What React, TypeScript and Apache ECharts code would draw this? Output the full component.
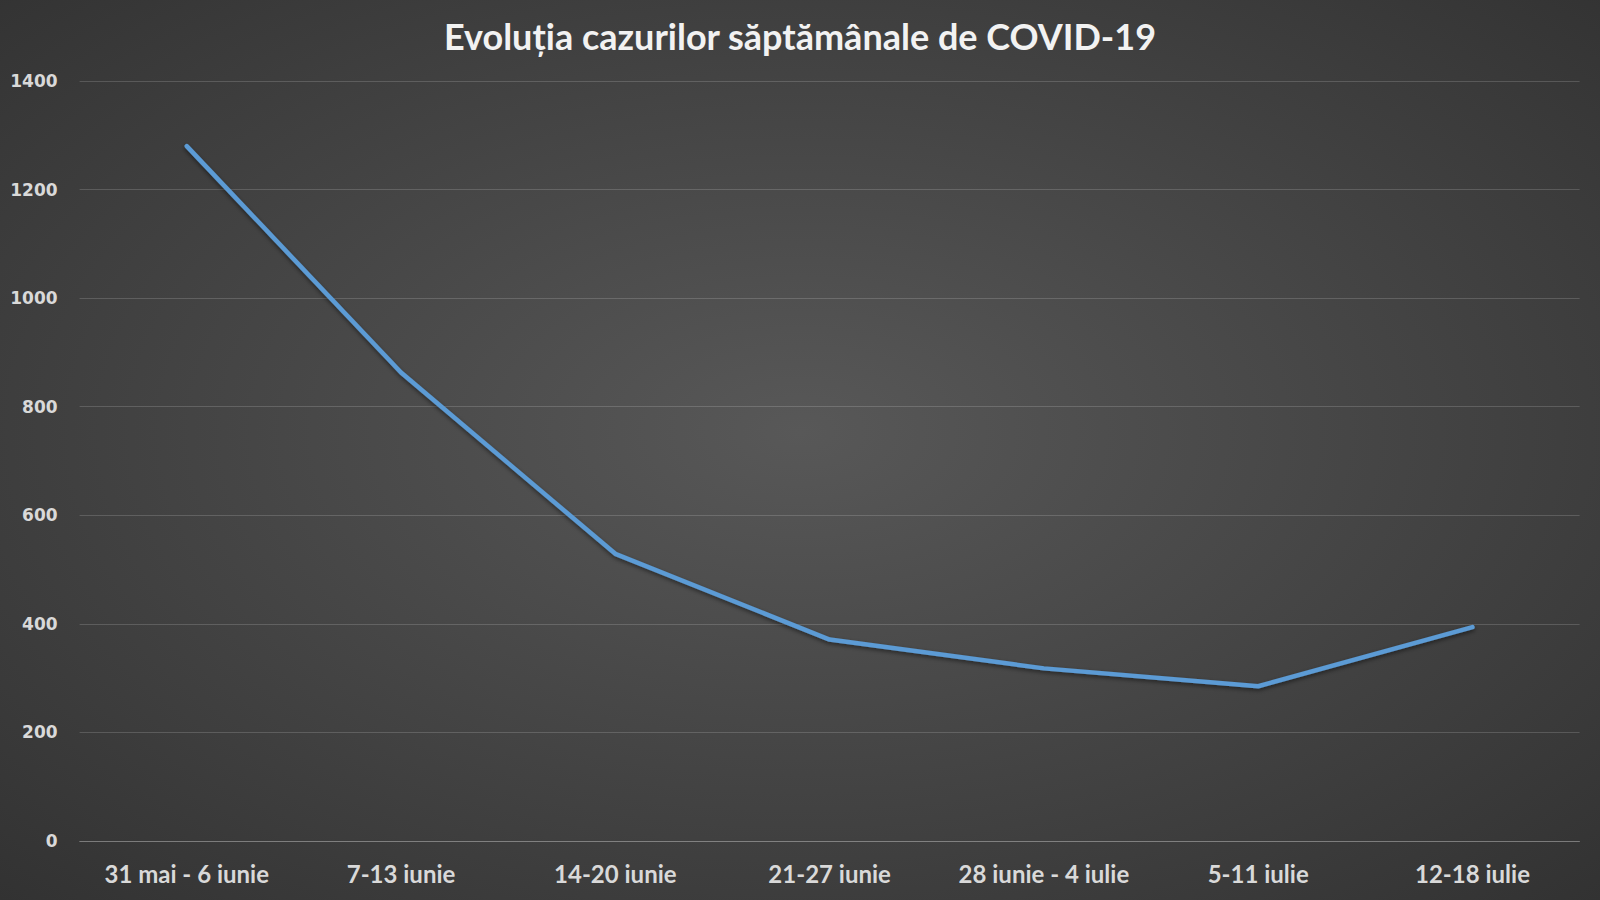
import React, { useEffect, useRef } from "react";
import * as echarts from "echarts";

const categories = [
  "31 mai - 6 iunie",
  "7-13 iunie",
  "14-20 iunie",
  "21-27 iunie",
  "28 iunie - 4 iulie",
  "5-11 iulie",
  "12-18 iulie",
];
const cases = [1280, 863, 529, 371, 318, 285, 394];
const titleText = "Evoluția cazurilor săptămânale de COVID-19";

export default function App() {
  const ref = useRef<HTMLDivElement>(null);
  useEffect(() => {
    if (!ref.current) return;
    const chart = echarts.init(ref.current, undefined, { renderer: "svg" });
    chart.setOption({
      animation: false,
      backgroundColor: new echarts.graphic.RadialGradient(0.5, 0.48, 0.95, [
        { offset: 0, color: "#585858" },
        { offset: 1, color: "#262626" },
      ]),
      title: {
        text: titleText,
        left: "center",
        top: 13,
        textStyle: {
          color: "#f2f2f2",
          fontFamily: "Lato",
          fontWeight: "bold",
          fontSize: 36,
        },
      },
      grid: { left: 79.6, right: 20.4, top: 81, bottom: 59, containLabel: false },
      xAxis: {
        type: "category",
        data: categories,
        boundaryGap: true,
        axisLine: { show: true, lineStyle: { color: "rgba(255,255,255,0.22)", width: 1 } },
        axisTick: { show: false },
        axisLabel: {
          color: "#d9d9d9",
          fontFamily: "Lato",
          fontWeight: "bold",
          fontSize: 24,
          margin: 20,
          interval: 0,
        },
      },
      yAxis: {
        type: "value",
        min: 0,
        max: 1400,
        interval: 200,
        axisLine: { show: false },
        axisTick: { show: false },
        splitLine: { lineStyle: { color: "rgba(255,255,255,0.16)", width: 1 } },
        axisLabel: {
          color: "#d9d9d9",
          fontFamily: "DejaVu Sans",
          fontWeight: "bold",
          fontSize: 17,
          margin: 22,
          formatter: (v: number) => String(v),
        },
      },
      series: [
        {
          type: "line",
          data: cases,
          symbol: "none",
          lineStyle: {
            color: "#5b9bd5",
            width: 4.5,
            cap: "round",
            join: "round",
            shadowColor: "rgba(0,0,0,0.5)",
            shadowBlur: 4,
            shadowOffsetY: 2,
          },
        },
      ],
    });
    return () => chart.dispose();
  }, []);
  return (
    <div
      ref={ref}
      style={{ position: "absolute", left: 0, top: 0, width: 1600, height: 900 }}
    />
  );
}
